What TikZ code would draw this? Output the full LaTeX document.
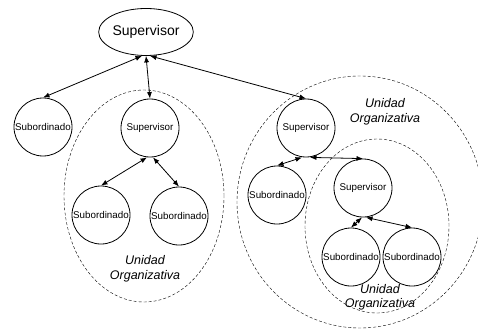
\documentclass[tikz,border=0pt]{standalone}
\usepackage{fontspec}
\setmainfont{Liberation Sans}
\usepackage{tikz}
\usetikzlibrary{arrows.meta,shapes.geometric}

\begin{document}
\begin{tikzpicture}[
  x=1pt,y=-1pt,
  person/.style={draw,circle,thick,minimum size=58pt,inner sep=0pt,font=\fontsize{9.8}{11}\selectfont},
  head/.style={draw,ellipse,thick,minimum width=82pt,minimum height=47pt,inner sep=0pt,font=\fontsize{14}{16}\selectfont},
  unit/.style={draw,dash pattern=on 3pt off 2pt,ellipse,inner sep=0pt},
  tag/.style={align=center,font=\fontsize{12.5}{15}\selectfont\itshape},
  link/.style={{Latex[length=6.5pt,width=5pt]}-{Latex[length=6.5pt,width=5pt]},thick}
]
\useasboundingbox (0,0) rectangle (478,331);
\clip (0,0) rectangle (478,331);

% dashed organisational units
\node[unit,minimum width=160pt,minimum height=212pt] (unitA) at (144,196) {};
\node[unit,minimum width=246pt,minimum height=252pt] (unitB) at (360,202) {};
\node[unit,minimum width=144pt,minimum height=174pt] (unitC) at (377,226) {};
\node[tag] at (145,269) {Unidad\\Organizativa};
\node[tag] at (385,112) {Unidad\\Organizativa};
\node[tag,font=\fontsize{12.5}{14}\selectfont\itshape] at (380,297) {Unidad\\Organizativa};

% people
\node[head] (top) at (146,32) {Supervisor};
\node[person] (subA) at (43,127) {Subordinado};
\node[person] (supA) at (150,128) {Supervisor};
\node[person] (subA1) at (101,215) {Subordinado};
\node[person] (subA2) at (179,216) {Subordinado};
\node[person] (supB) at (306,128) {Supervisor};
\node[person] (subB) at (277,195) {Subordinado};
\node[person] (supC) at (363,188) {Supervisor};
\node[person] (subC1) at (351,257) {Subordinado};
\node[person] (subC2) at (412,257) {Subordinado};

% reporting lines
\draw[link] ([xshift=-4pt]top.south) -- (subA.north);
\draw[link] (top.south) -- (supA.north);
\draw[link] ([xshift=4pt]top.south) -- (supB.north);
\draw[link] ([xshift=-3pt]supA.south) -- (subA1.north);
\draw[link] ([xshift=3pt]supA.south) -- (subA2.north);
\draw[link] ([xshift=-4pt]supB.south) -- (subB.north);
\draw[link] ([xshift=4pt]supB.south) -- (supC.north);
\draw[link] ([xshift=-1pt]supC.south) -- (subC1.north);
\draw[link] ([xshift=3pt]supC.south) -- (subC2.north);
\end{tikzpicture}
\end{document}
